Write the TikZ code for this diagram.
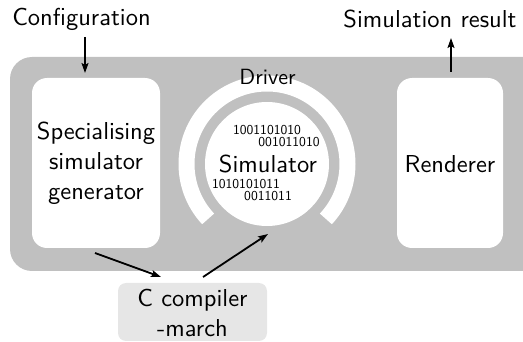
\documentclass[tikz,border=0pt]{standalone}
\usepackage{fontspec}
\setsansfont{lmsans10-regular.otf}
\usetikzlibrary{arrows.meta}
\definecolor{panelgray}{HTML}{C0C0C0}
\definecolor{boxgray}{HTML}{E6E6E6}
\tikzset{
  bigtext/.style={font=\sffamily\fontsize{24.5}{30}\selectfont, inner sep=0pt, align=center},
  drvtext/.style={font=\sffamily\fontsize{22}{26}\selectfont, inner sep=0pt},
  bits/.style={font=\sffamily\fontsize{13.6}{16}\selectfont, inner sep=0pt},
  arr/.style={line width=1.8pt, -{Stealth[length=10pt,width=7pt,inset=2pt]}},
  whitebox/.style={fill=white, rounded corners=15pt}
}
\begin{document}
\begin{tikzpicture}[x=1pt,y=-1pt]
\useasboundingbox (0,0) rectangle (523,342);
% panel
\fill[panelgray, rounded corners=22pt] (10,57) rectangle (545,271);
% boxes
\fill[whitebox] (32,78) rectangle (160,248);
\fill[whitebox] (397,78) rectangle (503,248);
\node[bigtext] (gen) at (96,163) {Specialising\\simulator\\generator};
\node[bigtext] (rend) at (450,164) {Renderer};
% driver ring
\coordinate (c) at (267,164);
\draw[white, line width=16pt] (c) ++(137:80.5) arc[start angle=137, end angle=403, radius=80.5];
\fill[white] (c) circle[radius=62];
\node[drvtext, anchor=base] (drv) at (267.5,85) {Driver};
\node[bigtext] (sim) at (268,164) {Simulator};
\node[bits] (b1) at (267,130.5) {1001101010};
\node[bits] (b2) at (289,142.5) {001011010};
\node[bits] (b3) at (246,184.5) {1010101011};
\node[bits] (b4) at (268,196.5) {0011011};
% labels
\node[bigtext] (conf) at (81.5,19) {Configuration};
\node[bigtext] (res) at (430,19) {Simulation result};
% compiler box
\fill[boxgray, rounded corners=8pt] (118,283) rectangle (267,341);
\node[bigtext] (cc) at (192.5,313) {C compiler\\-march};
% arrows
\coordinate (a1s) at (85,37);
\coordinate (a1e) at (85,73);
\coordinate (a2s) at (451,72);
\coordinate (a2e) at (451,38);
\coordinate (a3s) at (95,253);
\coordinate (a3e) at (161,277);
\coordinate (a4s) at (203,277);
\coordinate (a4e) at (268,234);
\draw[arr] (a1s) -- (a1e);
\draw[arr] (a2s) -- (a2e);
\draw[arr] (a3s) -- (a3e);
\draw[arr] (a4s) -- (a4e);
\end{tikzpicture}
\end{document}
